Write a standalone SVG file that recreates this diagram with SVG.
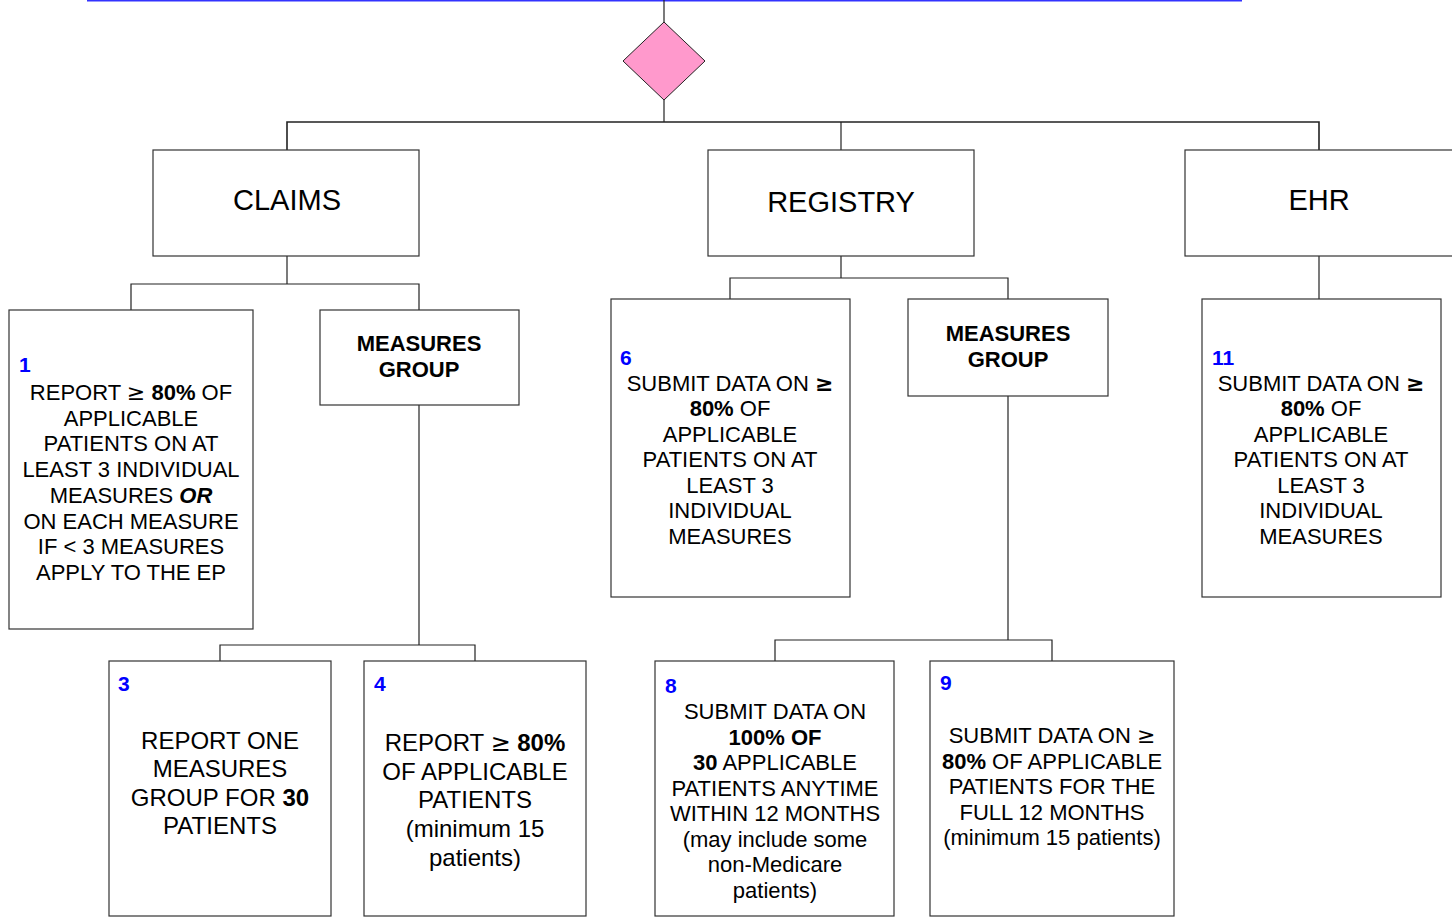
<svg xmlns="http://www.w3.org/2000/svg" width="1452" height="918" viewBox="0 0 1452 918">
<style>
.box{fill:#fff;stroke:#333;stroke-width:1.2}
.ln{fill:none;stroke:#222;stroke-width:1.2}
text{font-family:"Liberation Sans",Arial,sans-serif;fill:#000}
.t{font-size:22px;text-anchor:middle}
.t24{font-size:24px;text-anchor:middle}
.h{font-size:29px;text-anchor:middle}
.mg{font-size:22px;font-weight:bold;text-anchor:middle}
.num{font-size:21px;font-weight:bold;fill:#0000ff}
.b{font-weight:bold}
.ge{font-family:"DejaVu Sans",sans-serif}
</style>
<rect width="1452" height="918" fill="#fff"/>
<line x1="87" y1="0.5" x2="1242" y2="0.5" stroke="#3333ff" stroke-width="2"/>
<g id="connectors">
<polyline class="ln" points="664,0 664,22"/>
<polyline class="ln" points="664,100 664,122"/>
<polyline class="ln" points="287,150 287,122 1319,122 1319,150" style="stroke-width:1.6"/>
<polyline class="ln" points="841,122 841,150"/>
<polyline class="ln" points="287,256 287,284"/>
<polyline class="ln" points="131,310 131,284 419,284 419,310"/>
<polyline class="ln" points="419,405 419,645"/>
<polyline class="ln" points="220,661 220,645 475,645 475,661"/>
<polyline class="ln" points="841,256 841,278"/>
<polyline class="ln" points="730,299 730,278 1008,278 1008,299"/>
<polyline class="ln" points="1008,396 1008,640"/>
<polyline class="ln" points="775,661 775,640 1052,640 1052,661"/>
<polyline class="ln" points="1319,256 1319,299"/>
</g>
<g id="decision">
<polygon points="664,22 705,61 664,100 623,61" fill="#ff99cc" stroke="#222" stroke-width="1"/>
</g>
<g id="claims">
<rect class="box" x="153" y="150" width="266" height="106"/>
<text class="h" x="287" y="210">CLAIMS</text>
</g>
<g id="registry">
<rect class="box" x="708" y="150" width="266" height="106"/>
<text class="h" x="841" y="212">REGISTRY</text>
</g>
<g id="ehr">
<rect class="box" x="1185" y="150" width="270" height="106"/>
<text class="h" x="1319" y="210">EHR</text>
</g>
<g id="box1">
<rect class="box" x="9" y="310" width="244" height="319"/>
<text class="num" x="19" y="372">1</text>
<text class="t" x="131" y="400">REPORT <tspan class="ge">≥</tspan> <tspan class="b">80%</tspan> OF</text>
<text class="t" x="131" y="426">APPLICABLE</text>
<text class="t" x="131" y="451">PATIENTS ON AT</text>
<text class="t" x="131" y="477">LEAST 3 INDIVIDUAL</text>
<text class="t" x="131" y="503">MEASURES <tspan class="b" font-style="italic">OR</tspan></text>
<text class="t" x="131" y="529">ON EACH MEASURE</text>
<text class="t" x="131" y="554">IF &lt; 3 MEASURES</text>
<text class="t" x="131" y="580">APPLY TO THE EP</text>
</g>
<g id="mg-claims">
<rect class="box" x="320" y="310" width="199" height="95"/>
<text class="mg" x="419" y="351">MEASURES</text>
<text class="mg" x="419" y="377">GROUP</text>
</g>
<g id="box3">
<rect class="box" x="109" y="661" width="222" height="255"/>
<text class="num" x="118" y="691">3</text>
<text class="t24" x="220" y="749">REPORT ONE</text>
<text class="t24" x="220" y="777">MEASURES</text>
<text class="t24" x="220" y="806">GROUP FOR <tspan class="b">30</tspan></text>
<text class="t24" x="220" y="834">PATIENTS</text>
</g>
<g id="box4">
<rect class="box" x="364" y="661" width="222" height="255"/>
<text class="num" x="374" y="691">4</text>
<text class="t24" x="475" y="751">REPORT <tspan class="ge">≥</tspan> <tspan class="b">80%</tspan></text>
<text class="t24" x="475" y="780">OF APPLICABLE</text>
<text class="t24" x="475" y="808">PATIENTS</text>
<text class="t24" x="475" y="837">(minimum 15</text>
<text class="t24" x="475" y="866">patients)</text>
</g>
<g id="box6">
<rect class="box" x="611" y="299" width="239" height="298"/>
<text class="num" x="620" y="365">6</text>
<text class="t" x="730" y="391">SUBMIT DATA ON <tspan class="ge b">≥</tspan></text>
<text class="t" x="730" y="416"><tspan class="b">80%</tspan> OF</text>
<text class="t" x="730" y="442">APPLICABLE</text>
<text class="t" x="730" y="467">PATIENTS ON AT</text>
<text class="t" x="730" y="493">LEAST 3</text>
<text class="t" x="730" y="518">INDIVIDUAL</text>
<text class="t" x="730" y="544">MEASURES</text>
</g>
<g id="mg-registry">
<rect class="box" x="908" y="299" width="200" height="97"/>
<text class="mg" x="1008" y="341">MEASURES</text>
<text class="mg" x="1008" y="367">GROUP</text>
</g>
<g id="box8">
<rect class="box" x="655" y="661" width="239" height="255"/>
<text class="num" x="665" y="693">8</text>
<text class="t" x="775" y="719">SUBMIT DATA ON</text>
<text class="t b" x="775" y="745">100% OF</text>
<text class="t" x="775" y="770"><tspan class="b">30</tspan> APPLICABLE</text>
<text class="t" x="775" y="796">PATIENTS ANYTIME</text>
<text class="t" x="775" y="821">WITHIN 12 MONTHS</text>
<text class="t" x="775" y="847">(may include some</text>
<text class="t" x="775" y="872">non-Medicare</text>
<text class="t" x="775" y="898">patients)</text>
</g>
<g id="box9">
<rect class="box" x="930" y="661" width="244" height="255"/>
<text class="num" x="940" y="690">9</text>
<text class="t" x="1052" y="743">SUBMIT DATA ON <tspan class="ge">≥</tspan></text>
<text class="t" x="1052" y="769"><tspan class="b">80%</tspan> OF APPLICABLE</text>
<text class="t" x="1052" y="794">PATIENTS FOR THE</text>
<text class="t" x="1052" y="820">FULL 12 MONTHS</text>
<text class="t" x="1052" y="845">(minimum 15 patients)</text>
</g>
<g id="box11">
<rect class="box" x="1202" y="299" width="239" height="298"/>
<text class="num" x="1212" y="365">11</text>
<text class="t" x="1321" y="391">SUBMIT DATA ON <tspan class="ge b">≥</tspan></text>
<text class="t" x="1321" y="416"><tspan class="b">80%</tspan> OF</text>
<text class="t" x="1321" y="442">APPLICABLE</text>
<text class="t" x="1321" y="467">PATIENTS ON AT</text>
<text class="t" x="1321" y="493">LEAST 3</text>
<text class="t" x="1321" y="518">INDIVIDUAL</text>
<text class="t" x="1321" y="544">MEASURES</text>
</g>
</svg>
